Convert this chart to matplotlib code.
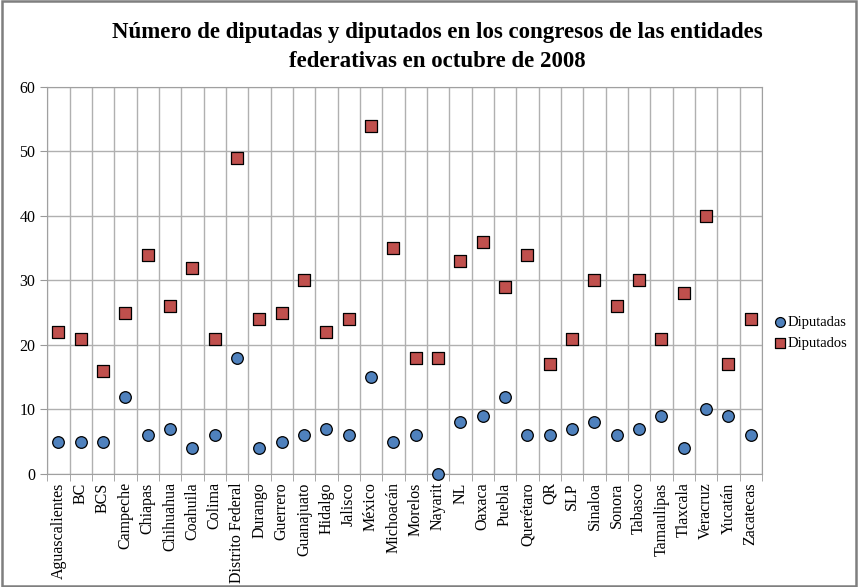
import matplotlib
matplotlib.use("Agg")
import matplotlib.pyplot as plt
from matplotlib.patches import Rectangle

estados = ['Aguascalientes', 'BC', 'BCS', 'Campeche', 'Chiapas', 'Chihuahua', 'Coahuila',
           'Colima', 'Distrito Federal', 'Durango', 'Guerrero', 'Guanajuato', 'Hidalgo',
           'Jalisco', 'México', 'Michoacán', 'Morelos', 'Nayarit', 'NL', 'Oaxaca', 'Puebla',
           'Querétaro', 'QR', 'SLP', 'Sinaloa', 'Sonora', 'Tabasco', 'Tamaulipas',
           'Tlaxcala', 'Veracruz', 'Yucatán', 'Zacatecas']
diputadas = [5, 5, 5, 12, 6, 7, 4, 6, 18, 4, 5, 6, 7, 6, 15, 5, 6, 0, 8, 9, 12, 6, 6, 7,
             8, 6, 7, 9, 4, 10, 9, 6]
diputados = [22, 21, 16, 25, 34, 26, 32, 21, 49, 24, 25, 30, 22, 24, 54, 35, 18, 18, 33,
             36, 29, 34, 17, 21, 30, 26, 30, 21, 28, 40, 17, 24]

plt.rcParams['font.family'] = ['Liberation Serif', 'DejaVu Serif']

fig = plt.figure(figsize=(8.58, 5.87), dpi=100)
fig.patches.append(Rectangle((0.002, 0.002), 0.996, 0.996, transform=fig.transFigure,
                             fill=False, edgecolor='#7f7f7f', linewidth=1.8))
ax = fig.add_axes([0.055, 0.1925, 0.833, 0.6595])

x = list(range(len(estados)))
ax.scatter(x, diputadas, s=70, marker='o', color='#4f81bd', edgecolor='black',
           linewidth=0.9, label='Diputadas', zorder=3, clip_on=False)
ax.scatter(x, diputados, s=70, marker='s', color='#c0504d', edgecolor='black',
           linewidth=0.9, label='Diputados', zorder=3, clip_on=False)

ax.set_xlim(-0.5, len(estados) - 0.5)
ax.set_ylim(0, 60)
ax.set_yticks(range(0, 61, 10))
ax.set_xticks(x)
ax.set_xticklabels(estados, rotation=90, fontsize=11.5)
ax.tick_params(axis='x', length=0, pad=6)
ax.set_xticks([i - 0.5 for i in range(len(estados) + 1)], minor=True)
ax.tick_params(axis='x', which='minor', length=5, color='#999999')
ax.tick_params(axis='y', labelsize=11.5, length=5, color='#999999')
ax.grid(True, which='minor', axis='x', color='#b0b0b0', linewidth=1)
ax.grid(True, which='major', axis='y', color='#b0b0b0', linewidth=1)
ax.set_axisbelow(True)
for s in ['left', 'bottom', 'top', 'right']:
    ax.spines[s].set_color('#a0a0a0')

fig.suptitle('Número de diputadas y diputados en los congresos de las entidades\n'
             'federativas en octubre de 2008', x=0.51, y=0.963, va='top',
             fontsize=16.5, fontweight='bold', linespacing=1.5)

ax.legend(loc='center left', bbox_to_anchor=(1.008, 0.365), frameon=False, fontsize=10.5,
          handlelength=0.7, handletextpad=0.15, labelspacing=0.5, markerscale=0.85,
          borderpad=0)

fig.savefig('out.png', dpi=100)
